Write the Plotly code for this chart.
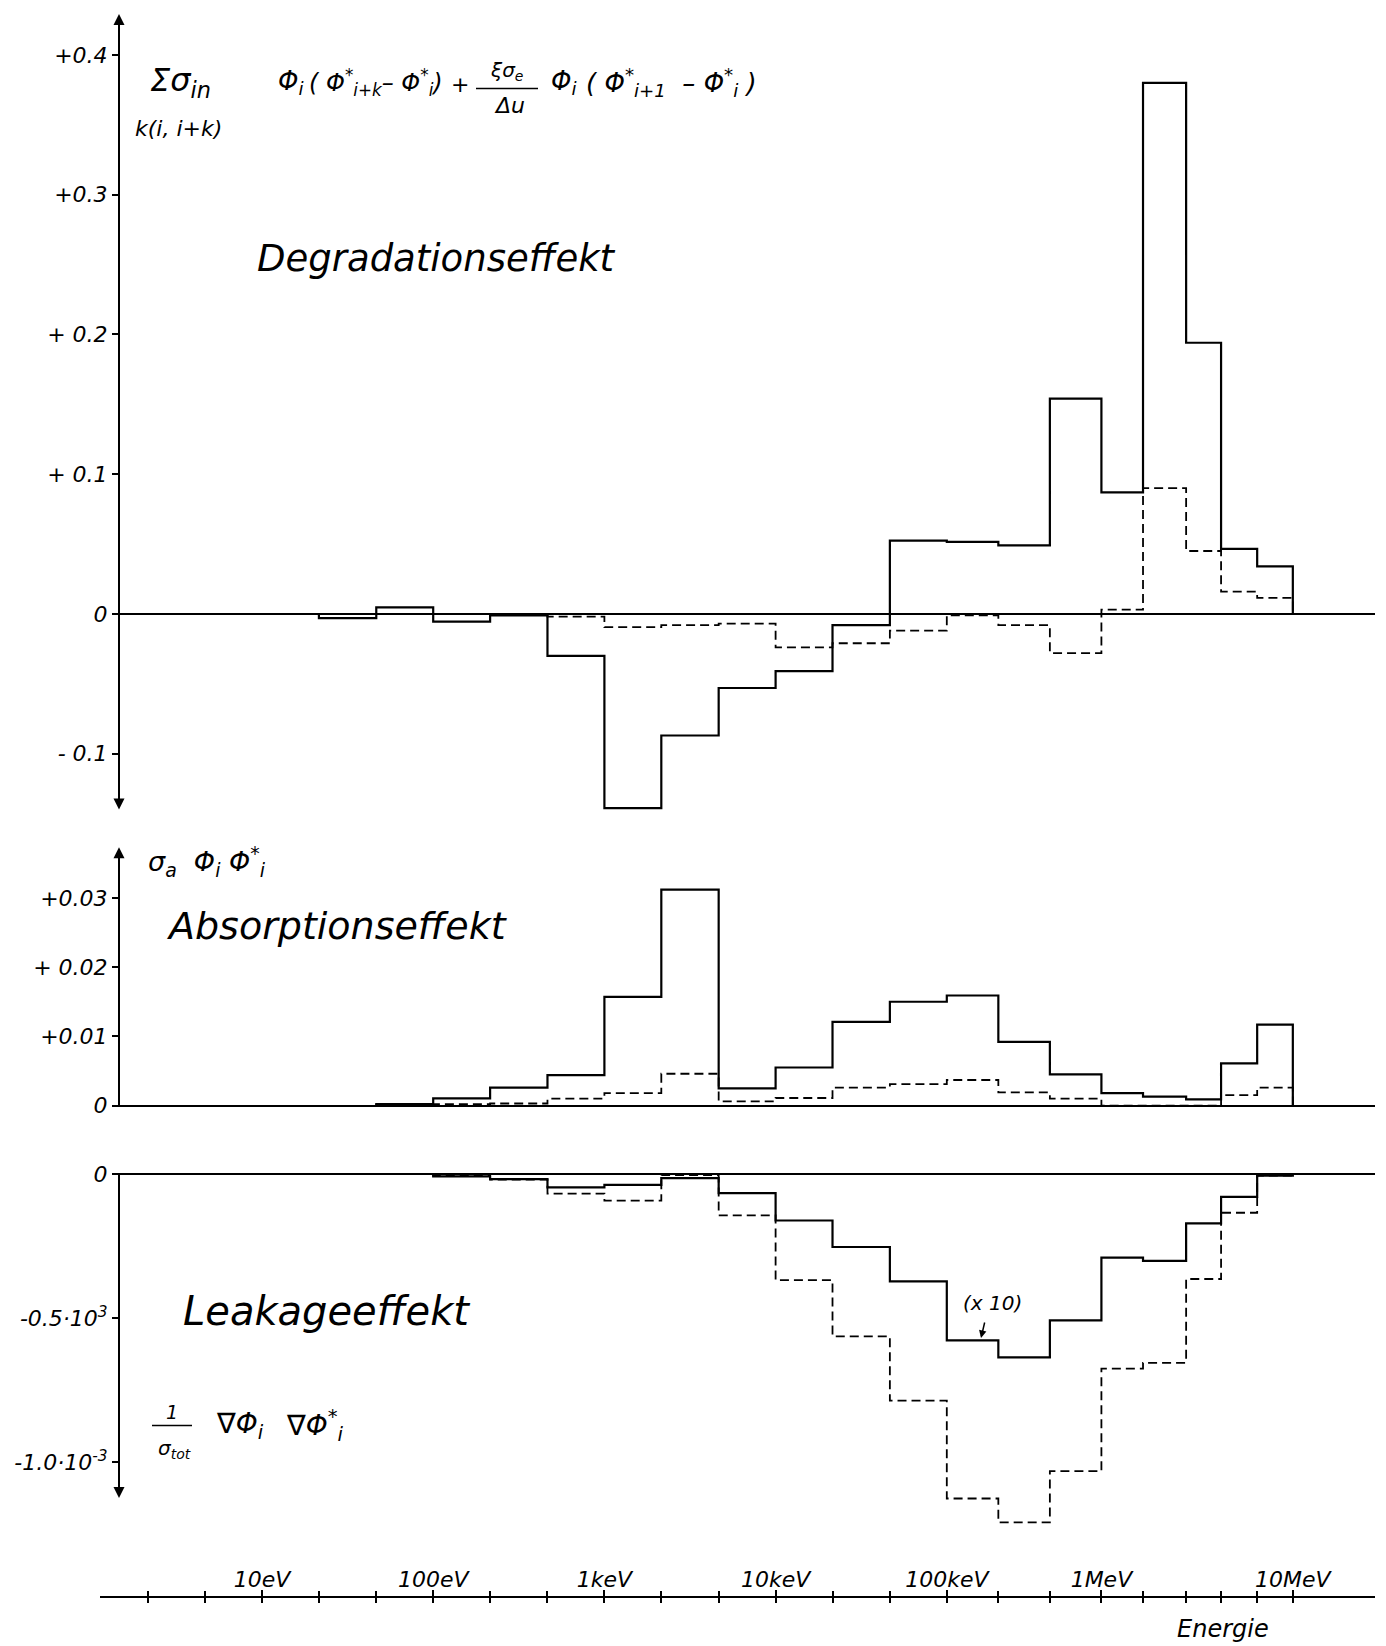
import plotly.graph_objects as go

W, H = 1386, 1646
FONT = "DejaVu Sans"


def PX(x):
    return x / W


def PY(y):
    return 1 - y / H


# hand-drawn abscissa: pixel = A + B*log10(E/eV)
A, B = 90.8, 171.2


def xrange_px(p0, p1):
    return [(p0 - A) / B, (p1 - A) / B]


# ---------------- data ----------------
# energy group boundaries (eV)
edges = [21.5, 46.5, 100, 215, 465, 1e3, 2.15e3, 4.65e3, 1e4, 2.15e4, 4.65e4,
         1e5, 2e5, 4e5, 8e5, 1.4e6, 2.5e6, 4e6, 6.5e6, 10.5e6]

# Degradationseffekt (groups from 21.5 eV)
degr_solid = [-0.003, 0.0047, -0.0055, -0.001, -0.030, -0.139, -0.087, -0.053,
              -0.041, -0.008, 0.0525, 0.0515, 0.049, 0.154, 0.087, 0.380,
              0.194, 0.0465, 0.034]
# dashed curve (groups from 465 eV)
degr_dashed = [-0.002, -0.0095, -0.008, -0.007, -0.024, -0.021, -0.012,
               -0.001, -0.008, -0.028, 0.003, 0.090, 0.045, 0.016, 0.0115]

# Absorptionseffekt (groups from 46.5 eV)
absorb_solid = [0.0002, 0.00105, 0.0026, 0.0044, 0.0157, 0.0312, 0.0025,
                0.0055, 0.0121, 0.0150, 0.0159, 0.0092, 0.0045, 0.0018,
                0.0013, 0.0009, 0.0061, 0.0117]
absorb_dashed = [0.0001, 0.0002, 0.0003, 0.0010, 0.0018, 0.0046, 0.0006,
                 0.0011, 0.0026, 0.0031, 0.0037, 0.0019, 0.0010, 0.0, 0.0,
                 0.0, 0.0015, 0.0026]

# Leakageeffekt, in units of 10^-3 (groups from 100 eV)
leak_solid = [-0.008, -0.017, -0.046, -0.037, -0.014, -0.066, -0.161, -0.253,
              -0.372, -0.577, -0.636, -0.508, -0.290, -0.301, -0.171, -0.079,
              -0.005]
leak_dashed = [-0.005, -0.019, -0.068, -0.092, -0.003, -0.143, -0.368, -0.563,
               -0.786, -1.126, -1.209, -1.031, -0.675, -0.655, -0.364, -0.134,
               -0.005]

# energy ruler
ruler_ticks = [2.15, 4.65, 10, 21.5, 46.5, 100, 215, 465, 1e3, 2.15e3, 4.65e3,
               1e4, 2.15e4, 4.65e4, 1e5, 2e5, 4e5, 8e5, 1.4e6, 2.5e6, 4e6,
               6.5e6, 10.5e6]
ruler_label_vals = [10, 100, 1e3, 1e4, 1e5, 8e5, 10.5e6]
ruler_label_text = ["10eV", "100eV", "1keV", "10keV", "100keV", "1MeV",
                    "10MeV"]

top_ticks = [-0.1, 0, 0.1, 0.2, 0.3, 0.4]
top_ticktext = ["- 0.1", "0", "+ 0.1", "+ 0.2", "+0.3", "+0.4"]
mid_ticks = [0, 0.01, 0.02, 0.03]
mid_ticktext = ["0", "+0.01", "+ 0.02", "+0.03"]
bot_ticks = [-1.0, -0.5, 0]
bot_ticktext = ["-1.0·10<sup>-3</sup>", "-0.5·10<sup>3</sup>", "0"]


def step(e, v):
    xs = [e[0]] + list(e) + [e[-1]]
    ys = [0] + list(v) + [v[-1], 0]
    return xs, ys


fig = go.Figure()

SOLID = dict(color="black", width=2.2, shape="hv")
DASH = dict(color="black", width=1.8, shape="hv", dash="9px,5px")

series = [
    (edges, degr_solid, SOLID, "x", "y"),
    (edges[4:], degr_dashed, DASH, "x", "y"),
    (edges[1:], absorb_solid, SOLID, "x2", "y2"),
    (edges[1:], absorb_dashed, DASH, "x2", "y2"),
    (edges[2:], leak_solid, SOLID, "x3", "y3"),
    (edges[2:], leak_dashed, DASH, "x3", "y3"),
]
for e, v, ln, xa, ya in series:
    xs, ys = step(e, v)
    fig.add_trace(go.Scatter(x=xs, y=ys, mode="lines", line=ln, xaxis=xa,
                             yaxis=ya, hoverinfo="skip", showlegend=False))

# carriers for the energy ruler axes
for xa in ("x4", "x5", "x6"):
    fig.add_trace(go.Scatter(x=[10], y=[0.5], mode="markers",
                             marker=dict(opacity=0), xaxis=xa, yaxis="y4",
                             hoverinfo="skip", showlegend=False))

hidden_x = dict(type="log", showgrid=False, zeroline=False, showline=False,
                showticklabels=False, ticks="")
tickfont = dict(family=FONT, size=22, color="black", style="italic")


def yax(dom_px, rng, tv, tt):
    return dict(domain=[PY(dom_px[1]), PY(dom_px[0])], range=rng,
                anchor="free", position=PX(119), showgrid=False,
                showline=False, zeroline=True, zerolinecolor="black",
                zerolinewidth=2, ticks="outside", ticklen=7, tickwidth=1.5,
                tickcolor="black", tickvals=tv, ticktext=tt,
                tickfont=tickfont)


RULER_Y = PY(1603)
ruler_rng = xrange_px(100, 1375)

fig.update_layout(
    width=W, height=H, margin=dict(l=0, r=0, t=0, b=0),
    paper_bgcolor="white", plot_bgcolor="white", showlegend=False,
    font=dict(family=FONT, color="black"),
    xaxis=dict(hidden_x, domain=[PX(119), PX(1375)],
               range=xrange_px(119, 1375), anchor="y"),
    xaxis2=dict(hidden_x, domain=[PX(112), PX(1375)],
                range=xrange_px(112, 1375), anchor="y2"),
    xaxis3=dict(hidden_x, domain=[PX(112), PX(1375)],
                range=xrange_px(112, 1375), anchor="y3"),
    # ruler: line + labels
    xaxis4=dict(type="log", domain=[PX(100), PX(1375)], range=ruler_rng,
                anchor="free", position=RULER_Y, showgrid=False,
                zeroline=False, showline=True, linewidth=2,
                linecolor="black", ticks="inside", ticklen=6, tickwidth=1.5,
                tickcolor="black", tickvals=ruler_label_vals,
                ticktext=ruler_label_text, ticklabelposition="inside",
                tickfont=tickfont),
    # ruler: ticks below the line
    xaxis5=dict(type="log", overlaying="x4", range=ruler_rng,
                anchor="free", position=RULER_Y, showgrid=False,
                zeroline=False, showline=False, ticks="outside", ticklen=5,
                tickwidth=1.5, tickcolor="black", tickvals=ruler_ticks,
                showticklabels=False),
    # ruler: ticks above the line
    xaxis6=dict(type="log", overlaying="x4", range=ruler_rng,
                anchor="free", position=RULER_Y, showgrid=False,
                zeroline=False, showline=False, ticks="inside", ticklen=6,
                tickwidth=1.5, tickcolor="black", tickvals=ruler_ticks,
                showticklabels=False),
    yaxis=yax((9, 815), [-(815 - 613) / 1407, (613 - 9) / 1407],
              top_ticks, top_ticktext),
    yaxis2=yax((848, 1115), [-(1115 - 1108) / 6970, (1108 - 848) / 6970],
               mid_ticks, mid_ticktext),
    yaxis3=yax((1170, 1545), [-(1545 - 1177) / 290, (1177 - 1170) / 290],
               bot_ticks, bot_ticktext),
    yaxis4=dict(domain=[0, 0.01], range=[0, 1], visible=False, anchor="x4"),
)

ann = []


def label(text, x, y, size, xanchor="left", yanchor="middle"):
    ann.append(dict(text=text, x=PX(x), y=PY(y), xref="paper", yref="paper",
                    xanchor=xanchor, yanchor=yanchor, showarrow=False,
                    font=dict(family=FONT, size=size, color="black",
                              style="italic")))


def arrow(x, y, ax, ay, side="end", width=2, size=1.1, head=2):
    ann.append(dict(text="", x=PX(x), y=PY(y), xref="paper", yref="paper",
                    ax=ax, ay=ay, showarrow=True, arrowhead=head,
                    arrowsize=size, arrowwidth=width, arrowcolor="black",
                    arrowside=side, startarrowhead=head,
                    startarrowsize=size))


# axis arrows
arrow(119, 9, 0, 797, side="end+start")
arrow(119, 848, 0, 260)
arrow(119, 1503, 0, -326)

# formula of the top panel
label("Σσ<sub>in</sub>", 148, 78, 32)
label("k(i, i+k)", 133, 124, 22)
label("Φ<sub>i</sub>", 276, 78, 26)
label("( Φ<sup>*</sup><sub>i+k</sub>– Φ<sup>*</sup><sub>i</sub>)", 307, 78, 24)
label("+", 460, 80, 22, xanchor="center")
label("ξσ<sub>e</sub>", 506, 66, 20, xanchor="center")
label("Δu", 509, 101, 22, xanchor="center")
label("Φ<sub>i</sub>", 549, 78, 26)
label("( Φ<sup>*</sup><sub>i+1</sub>  – Φ<sup>*</sup><sub>i</sub> )", 584, 78, 26)

label("Degradationseffekt", 255, 255, 37)

label("σ<sub>a</sub>  Φ<sub>i</sub> Φ<sup>*</sup><sub>i</sub>", 146, 862, 27)
label("Absorptionseffekt", 164, 927, 38)

label("Leakageeffekt", 181, 1315, 40)
label("1", 172, 1416, 19, xanchor="center")
label("σ<sub>tot</sub>", 174, 1454, 20, xanchor="center")
label("∇Φ<sub>i</sub>", 214, 1430, 28)
label("∇Φ<sup>*</sup><sub>i</sub>", 284, 1430, 28)

label("(x 10)", 992, 1307, 20, xanchor="center")
arrow(981, 1342, 4, -17, width=1.5, size=1, head=2)

label("Energie", 1175, 1635, 24)

fig.update_layout(annotations=ann)

fig.update_layout(shapes=[
    dict(type="line", xref="paper", yref="paper", x0=PX(476), x1=PX(538),
         y0=PY(84), y1=PY(84), line=dict(color="black", width=1.5)),
    dict(type="line", xref="paper", yref="paper", x0=PX(152), x1=PX(192),
         y0=PY(1430), y1=PY(1430), line=dict(color="black", width=1.5)),
])

fig.write_html("out.html")
